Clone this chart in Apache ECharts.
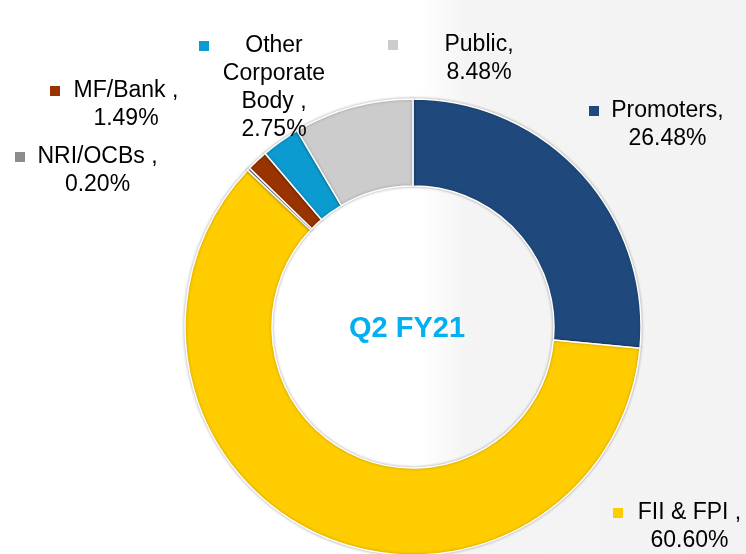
<!DOCTYPE html>
<html>
<head>
<meta charset="utf-8">
<script src="https://cdn.jsdelivr.net/npm/echarts@6/dist/echarts.min.js"></script>
<style>
  html, body { margin: 0; padding: 0; background: #fff; }
  #chart { width: 746px; height: 554px; }
</style>
</head>
<body>
<div id="chart"></div>
<script>
// shareholding pattern, Q2 FY21
var categories = ['Promoters', 'FII & FPI', 'NRI/OCBs', 'MF/Bank', 'Other Corporate Body', 'Public'];
var labelNames = ['Promoters,', 'FII & FPI ,', 'NRI/OCBs ,', 'MF/Bank ,', 'Other\nCorporate\nBody ,', 'Public,'];
var shares = [26.48, 60.60, 0.20, 1.49, 2.75, 8.48];
var colors = ['#1F497D', '#FFCC00', '#8C8C8C', '#993300', '#0C9BD0', '#CCCCCC'];
var centerText = 'Q2 FY21';

// label boxes: left, top, width (excel-style data label boxes)
var labelBox = [
  [589, 97, 147],
  [613, 499, 143],
  [15, 143, 155],
  [50, 77, 142],
  [199, 32, 140],
  [388, 31, 172]
];

var FONT = '"Liberation Sans", Arial, sans-serif';

function makeRich(color) {
  return {
    m: { width: 10, height: 10, backgroundColor: color, align: 'left', lineHeight: 28 },
    p: { width: 10, height: 10, align: 'left', lineHeight: 28 },
    t: { fontSize: 23, fontFamily: FONT, color: '#000', align: 'center', lineHeight: 28 }
  };
}

var chart = echarts.init(document.getElementById('chart'));

var data = categories.map(function (c, i) {
  return {
    name: c,
    value: shares[i],
    itemStyle: { color: colors[i] },
    label: { width: labelBox[i][2], rich: makeRich(colors[i]) }
  };
});

chart.setOption({
  animation: false,
  backgroundColor: '#fff',
  graphic: [
    {
      type: 'rect', z: -10, silent: true,
      shape: { x: 420, y: 0, width: 326, height: 554 },
      style: {
        fill: new echarts.graphic.LinearGradient(0, 0, 1, 0, [
          { offset: 0, color: 'rgba(243,243,243,0)' },
          { offset: 0.15, color: '#f4f4f4' },
          { offset: 1, color: '#f3f3f3' }
        ])
      }
    },
    {
      type: 'text', z: 10, silent: true,
      x: 407, y: 329,
      style: {
        text: centerText,
        fill: '#00B0F0',
        font: 'bold 29px ' + FONT,
        align: 'center',
        verticalAlign: 'middle'
      }
    }
  ],
  series: [{
    type: 'pie',
    center: [413, 327],
    radius: [141, 228],
    startAngle: 90,
    clockwise: true,
    avoidLabelOverlap: false,
    emphasis: { disabled: true },
    itemStyle: {
      borderColor: '#fff',
      borderWidth: 1.5,
      shadowBlur: 3,
      shadowColor: 'rgba(0,0,0,0.3)'
    },
    label: {
      show: true,
      formatter: function (p) {
        var lines = labelNames[p.dataIndex].split('\n');
        lines.push(p.value.toFixed(2) + '%');
        return lines.map(function (l, k) {
          return (k === 0 ? '{m|}' : '{p|}') + '{t|' + l + '}';
        }).join('\n');
      }
    },
    labelLine: { show: false },
    labelLayout: function (params) {
      var b = labelBox[params.dataIndex];
      return { x: b[0], y: b[1], align: 'left', verticalAlign: 'top' };
    },
    data: data
  }]
});
</script>
</body>
</html>
